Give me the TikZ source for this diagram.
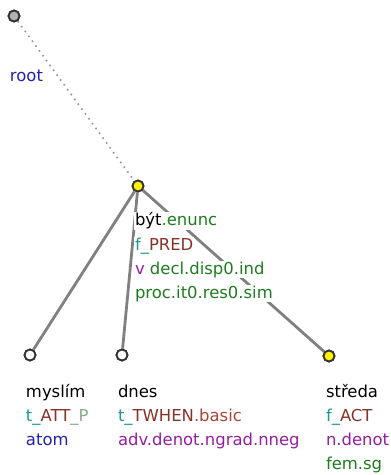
\documentclass[tikz,border=0pt]{standalone}
\usepackage{fontspec}
\setmainfont{DejaVu Sans}
\definecolor{cblue}{RGB}{35,35,165}
\definecolor{cgreen}{RGB}{30,125,30}
\definecolor{cteal}{RGB}{30,150,150}
\definecolor{cbrown}{RGB}{135,50,40}
\definecolor{clbrown}{RGB}{165,70,55}
\definecolor{cpurple}{RGB}{150,30,160}
\definecolor{cgrayg}{RGB}{140,170,140}
\definecolor{cedge}{RGB}{128,128,128}
\definecolor{cborder}{RGB}{50,50,50}
\tikzset{
  tnode/.style={circle, draw=cborder, line width=1.8bp, minimum size=11bp, inner sep=0pt},
  rootnode/.style={tnode, fill=gray!60},
  leafnode/.style={tnode, fill=white},
  yelnode/.style={tnode, fill=yellow},
  edge/.style={draw=cedge, line width=2.8bp},
  rootedge/.style={draw=gray!85, line width=1.6bp, dash pattern=on 1.6bp off 4.4bp},
  lbl/.style={anchor=base west, inner sep=0.8bp, fill=white, font=\fontsize{16.5}{20}\selectfont},
}
\begin{document}
\begin{tikzpicture}[x=1bp,y=-1bp]
\useasboundingbox (0,0) rectangle (390,475);
% nodes
\node[rootnode] (r) at (14,16) {};
\node[yelnode] (m) at (138,186) {};
\node[leafnode] (a) at (30,355) {};
\node[leafnode] (b) at (122,355) {};
\node[yelnode] (c) at (329,356) {};
% edges
\draw[rootedge] (r) -- (m);
\draw[edge] (m) -- (a);
\draw[edge] (m) -- (b);
\draw[edge] (m) -- (c);
% redraw nodes on top
\node[rootnode] at (r) {};
\node[yelnode] at (m) {};
\node[leafnode] at (a) {};
\node[leafnode] at (b) {};
\node[yelnode] at (c) {};
% labels
\node[lbl] (rl) at (9,82) {\color{cblue}root};
\node[lbl] (m1) at (134,226) {být{\color{cgreen}.enunc}};
\node[lbl] (m2) at (134,250) {{\color{cteal}f\_}{\color{cbrown}PRED}};
\node[lbl] (m3) at (134,274) {{\color{cpurple}v} {\color{cgreen}decl.disp0.ind}};
\node[lbl] (m4) at (134,298) {\color{cgreen}proc.it0.res0.sim};
\node[lbl] (a1) at (25,397) {myslím};
\node[lbl] (a2) at (25,421) {{\color{cteal}t\_}{\color{cbrown}ATT}{\color{cgrayg}\_P}};
\node[lbl] (a3) at (25,445) {\color{cblue}atom};
\node[lbl] (b1) at (117,397) {dnes};
\node[lbl] (b2) at (117,421) {{\color{cteal}t\_}{\color{cbrown}TWHEN}{\color{clbrown}.basic}};
\node[lbl] (b3) at (117,445) {\color{cpurple}adv.denot.ngrad.nneg};
\node[lbl] (c1) at (325,397) {středa};
\node[lbl] (c2) at (325,421) {{\color{cteal}f\_}{\color{cbrown}ACT}};
\node[lbl] (c3) at (325,445) {\color{cpurple}n.denot};
\node[lbl] (c4) at (325,469) {\color{cgreen}fem.sg};
\end{tikzpicture}
\end{document}
